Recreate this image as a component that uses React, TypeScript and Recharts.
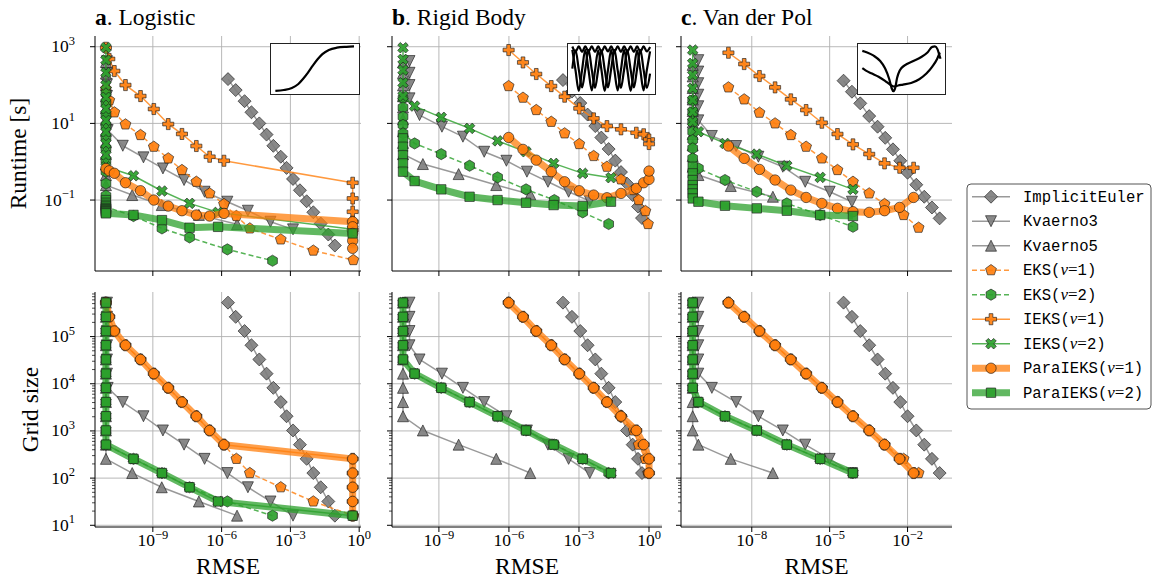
import React from 'react';
import { ScatterChart, Scatter, XAxis, YAxis, CartesianGrid, LineChart, Line } from 'recharts';

type Row = [number, number, number]; // [grid size, RMSE, runtime in s]

// ---------------- a. Logistic ----------------
const A_IEULER: Row[] = [
  [524288, 1.9e-6, 143], [262144, 4.1e-6, 74], [131072, 1.0e-5, 38], [65536, 2.0e-5, 19.5],
  [32768, 4.4e-5, 10], [16384, 9.1e-5, 5.1], [8192, 1.8e-4, 2.6], [4096, 3.8e-4, 1.35],
  [2048, 6.8e-4, 0.69], [1024, 1.3e-3, 0.355], [512, 2.6e-3, 0.18], [256, 5.1e-3, 0.093],
  [128, 1.0e-2, 0.048], [64, 2.1e-2, 0.0245], [32, 4.5e-2, 0.0126], [16, 8.7e-2, 0.0065],
];
const A_KV3: Row[] = [
  [524288, 1.0e-11, 420], [262144, 1.0e-11, 210], [131072, 1.0e-11, 105], [65536, 1.0e-11, 52],
  [32768, 1.0e-11, 26], [16384, 1.0e-11, 13], [8192, 1.07e-11, 6.7], [4096, 4.9e-11, 2.61],
  [2048, 3.9e-10, 1.3], [1024, 2.75e-9, 0.67], [512, 2.3e-8, 0.333], [256, 1.8e-7, 0.165],
  [128, 1.78e-6, 0.0906], [64, 1.4e-5, 0.0527], [32, 1.35e-4, 0.0272], [16, 1.3e-3, 0.0172],
];
const A_KV5: Row[] = [
  [524288, 9e-12, 400], [262144, 9e-12, 200], [131072, 9e-12, 100], [65536, 9e-12, 51],
  [32768, 9e-12, 25], [16384, 9e-12, 12.5], [8192, 9e-12, 6.4], [4096, 9e-12, 3.2],
  [2048, 9e-12, 1.6], [1024, 9e-12, 0.85], [512, 9e-12, 0.45], [256, 9e-12, 0.245],
  [128, 1.26e-10, 0.135], [64, 2.45e-9, 0.074], [32, 1.02e-7, 0.041], [16, 4.7e-6, 0.0234],
];
const A_EKS1: Row[] = [
  [524288, 9e-12, 80], [262144, 1.26e-11, 40], [131072, 2.1e-11, 19.4], [65536, 6.4e-11, 9.4],
  [32768, 2.9e-10, 4.97], [16384, 1.1e-9, 2.46], [8192, 4.7e-9, 1.22], [4096, 1.86e-8, 0.607],
  [2048, 7.9e-8, 0.3], [1024, 3.0e-7, 0.149], [512, 1.27e-6, 0.0787], [256, 4.4e-6, 0.0383],
  [128, 1.7e-5, 0.0182], [64, 3.8e-4, 0.0094], [32, 1.0e-2, 0.0048], [16, 0.557, 0.00272],
];
const A_EKS2: Row[] = [
  [524288, 9e-12, 60], [262144, 9e-12, 33], [131072, 9e-12, 17], [65536, 9e-12, 8.5],
  [32768, 9e-12, 4.3], [16384, 9e-12, 2.2], [8192, 9e-12, 1.1], [4096, 9e-12, 0.55],
  [2048, 9e-12, 0.27], [1024, 9e-12, 0.13], [512, 9e-12, 0.066], [256, 1.43e-10, 0.0383],
  [128, 2.5e-9, 0.0182], [64, 4.0e-8, 0.0106], [32, 1.78e-6, 0.00516], [16, 1.66e-4, 0.00261],
];
const A_IEKS1: Row[] = [
  [524288, 9e-12, 940], [262144, 1.26e-11, 480], [131072, 2.1e-11, 232], [65536, 6.4e-11, 100],
  [32768, 2.9e-10, 51.6], [16384, 1.1e-9, 23.7], [8192, 4.7e-9, 9.6], [4096, 1.86e-8, 5.3],
  [2048, 7.9e-8, 2.57], [1024, 3.0e-7, 1.35], [512, 1.27e-6, 1.06], [256, 0.52, 0.283],
  [128, 0.52, 0.11], [64, 0.52, 0.0496], [32, 0.52, 0.0272], [16, 0.52, 0.0166],
];
const A_IEKS2: Row[] = [
  [524288, 9e-12, 950], [262144, 9e-12, 450], [131072, 9e-12, 210], [65536, 9e-12, 100],
  [32768, 9e-12, 48], [16384, 9e-12, 24], [8192, 9e-12, 12], [4096, 9e-12, 6],
  [2048, 9e-12, 3], [1024, 9e-12, 1.5], [512, 9e-12, 0.74], [256, 1.43e-10, 0.43],
  [128, 2.5e-9, 0.172], [64, 4.0e-8, 0.082], [32, 7.0e-7, 0.0477], [16, 0.52, 0.0172],
];
const A_PARA1: Row[] = [
  [524288, 9e-12, 0.67], [262144, 1.26e-11, 0.58], [131072, 2.1e-11, 0.5], [65536, 6.4e-11, 0.283],
  [32768, 2.9e-10, 0.175], [16384, 1.1e-9, 0.1], [8192, 4.7e-9, 0.0697], [4096, 1.86e-8, 0.0527],
  [2048, 7.9e-8, 0.0407], [1024, 3.0e-7, 0.0383], [512, 1.27e-6, 0.0449], [256, 0.52, 0.0272],
  [128, 0.52, 0.0201], [64, 0.52, 0.0135], [32, 0.52, 0.0087], [16, 0.52, 0.0055],
];
const A_PARA2: Row[] = [
  [524288, 9e-12, 0.1], [262144, 9e-12, 0.085], [131072, 9e-12, 0.075], [65536, 9e-12, 0.068],
  [32768, 9e-12, 0.062], [16384, 9e-12, 0.058], [8192, 9e-12, 0.055], [4096, 9e-12, 0.052],
  [2048, 9e-12, 0.05], [1024, 9e-12, 0.047], [512, 9e-12, 0.045], [256, 1.43e-10, 0.041],
  [128, 2.5e-9, 0.03], [64, 4.0e-8, 0.019], [32, 7.0e-7, 0.02], [16, 0.52, 0.0135],
];

// ---------------- b. Rigid Body ----------------
const B_IEULER: Row[] = [
  [524288, 2.06e-4, 135], [262144, 5.0e-4, 67.6], [131072, 1.14e-3, 33.9], [65536, 2.34e-3, 17],
  [32768, 5.0e-3, 8.5], [16384, 9.06e-3, 4.27], [8192, 1.86e-2, 2.14], [4096, 3.6e-2, 1.07],
  [2048, 6.3e-2, 0.537], [1024, 0.114, 0.269], [512, 0.2, 0.135], [256, 0.338, 0.0676], [128, 0.5, 0.0339],
];
const B_KV3: Row[] = [
  [524288, 5.5e-11, 423], [262144, 5.5e-11, 209], [131072, 5.5e-11, 100], [65536, 5.5e-11, 45],
  [32768, 1.48e-10, 16.5], [16384, 1.35e-9, 8.2], [8192, 1.07e-8, 4.5], [4096, 8.7e-8, 1.82],
  [2048, 7.8e-7, 1.06], [1024, 5.9e-6, 0.55], [512, 4.7e-5, 0.3], [256, 3.6e-4, 0.165], [128, 2.9e-3, 0.094],
];
const B_KV5: Row[] = [
  [524288, 2.9e-11, 390], [262144, 2.9e-11, 205], [131072, 2.9e-11, 98], [65536, 2.9e-11, 51],
  [32768, 2.9e-11, 26], [16384, 2.9e-11, 12.8], [8192, 2.9e-11, 6.2], [4096, 2.9e-11, 3.1],
  [2048, 2.9e-11, 1.58], [1024, 2.06e-10, 0.87], [512, 7.0e-9, 0.476], [256, 2.86e-7, 0.246], [128, 8.2e-6, 0.141],
];
const B_EKS1: Row[] = [
  [524288, 9.7e-7, 94], [262144, 4.0e-6, 46.8], [131072, 1.48e-5, 22.3], [65536, 6.5e-5, 11],
  [32768, 2.43e-4, 5.5], [16384, 1.03e-3, 2.89], [8192, 4.26e-3, 1.41], [4096, 1.58e-2, 0.74],
  [2048, 6.3e-2, 0.346], [1024, 0.22, 0.182], [512, 0.36, 0.1], [256, 0.7, 0.0517], [128, 0.905, 0.0237],
];
const B_EKS2: Row[] = [
  [524288, 2.9e-11, 45], [262144, 2.9e-11, 26], [131072, 2.9e-11, 14.9], [65536, 2.9e-11, 9.1],
  [32768, 2.9e-11, 5.5], [16384, 9.1e-11, 3.0], [8192, 1.26e-9, 1.58], [4096, 2.06e-8, 0.787],
  [2048, 3.27e-7, 0.39], [1024, 5.4e-6, 0.19], [512, 8.8e-5, 0.1], [256, 1.44e-3, 0.0477], [128, 1.87e-2, 0.0237],
];
const B_IEKS1: Row[] = [
  [524288, 9.7e-7, 819], [262144, 4.0e-6, 389], [131072, 1.48e-5, 194], [65536, 6.5e-5, 94],
  [32768, 2.43e-4, 49.7], [16384, 1.03e-3, 24.6], [8192, 4.26e-3, 13.5], [4096, 1.58e-2, 8.5],
  [2048, 6.3e-2, 7.0], [1024, 0.286, 5.7], [512, 0.59, 5.2], [256, 1.0, 3.8], [128, 1.0, 2.9],
];
const B_IEKS2: Row[] = [
  [524288, 2.9e-11, 942], [262144, 2.9e-11, 468], [131072, 2.9e-11, 246], [65536, 2.9e-11, 115],
  [32768, 2.9e-11, 51.6], [16384, 9.1e-11, 28.3], [8192, 1.26e-9, 14.4], [4096, 2.06e-8, 7.4],
  [2048, 3.27e-7, 3.5], [1024, 5.4e-6, 1.82], [512, 8.2e-5, 0.905], [256, 1.44e-3, 0.497], [128, 2.35e-2, 0.383],
];
const B_PARA1: Row[] = [
  [524288, 9.7e-7, 4.3], [262144, 4.0e-6, 2.1], [131072, 1.48e-5, 1.1], [65536, 6.5e-5, 0.55],
  [32768, 2.43e-4, 0.3], [16384, 1.03e-3, 0.175], [8192, 4.26e-3, 0.135], [4096, 1.58e-2, 0.115],
  [2048, 6.3e-2, 0.149], [1024, 0.286, 0.201], [512, 0.59, 0.283], [256, 1.0, 0.346], [128, 1.0, 0.571],
];
const B_PARA2: Row[] = [
  [524288, 2.9e-11, 4.07], [262144, 2.9e-11, 2.46], [131072, 2.9e-11, 1.49], [65536, 2.9e-11, 0.905],
  [32768, 2.9e-11, 0.55], [16384, 9.1e-11, 0.313], [8192, 1.26e-9, 0.19], [4096, 2.06e-8, 0.122],
  [2048, 3.27e-7, 0.1], [1024, 5.4e-6, 0.085], [512, 8.2e-5, 0.074], [256, 1.44e-3, 0.0697], [128, 2.35e-2, 0.0906],
];

// ---------------- c. Van der Pol ----------------
const C_IEULER: Row[] = [
  [524288, 3.43e-5, 130], [262144, 7.2e-5, 67], [131072, 1.51e-4, 33.3], [65536, 3.34e-4, 15.5],
  [32768, 7.0e-4, 8.2], [16384, 1.38e-3, 4.2], [8192, 2.74e-3, 2.1], [4096, 5.25e-3, 1.06],
  [2048, 1.0e-2, 0.516], [1024, 2.17e-2, 0.251], [512, 4.4e-2, 0.122], [256, 8.7e-2, 0.064], [128, 0.172, 0.0333],
];
const C_KV3: Row[] = [
  [524288, 8.7e-11, 447], [262144, 8.7e-11, 225], [131072, 8.7e-11, 112], [65536, 8.7e-11, 56],
  [32768, 8.7e-11, 28], [16384, 8.7e-11, 12], [8192, 2.9e-10, 4.7], [4096, 2.5e-9, 2.57],
  [2048, 1.8e-8, 1.35], [1024, 1.57e-7, 0.74], [512, 1.14e-6, 0.3], [256, 1.0e-5, 0.165], [128, 7.2e-5, 0.0906],
];
const C_KV5: Row[] = [
  [524288, 5.3e-11, 336], [262144, 5.3e-11, 168], [131072, 5.3e-11, 84], [65536, 5.3e-11, 42],
  [32768, 5.3e-11, 21], [16384, 5.3e-11, 10.5], [8192, 5.3e-11, 5.3], [4096, 5.3e-11, 2.7],
  [2048, 5.3e-11, 1.4], [1024, 5.3e-11, 0.74], [512, 8.8e-11, 0.449], [256, 1.55e-9, 0.232], [128, 6.5e-8, 0.122],
];
const C_EKS1: Row[] = [
  [524288, 1.26e-9, 86.9], [262144, 5.1e-9, 42.3], [131072, 1.98e-8, 19], [65536, 7.9e-8, 10],
  [32768, 3.19e-7, 4.97], [16384, 1.24e-6, 2.46], [8192, 5.0e-6, 1.22], [4096, 2.0e-5, 0.607],
  [2048, 7.9e-5, 0.3], [1024, 3.34e-4, 0.149], [512, 1.3e-3, 0.0787], [256, 7.05e-3, 0.0407], [128, 2.67e-2, 0.019],
];
const C_EKS2: Row[] = [
  [524288, 5.3e-11, 40], [262144, 5.3e-11, 20], [131072, 5.3e-11, 11], [65536, 5.3e-11, 6.06],
  [32768, 5.3e-11, 3.67], [16384, 5.3e-11, 2.23], [8192, 5.3e-11, 1.22], [4096, 8.8e-11, 0.67],
  [2048, 9.3e-10, 0.333], [1024, 1.56e-8, 0.165], [512, 2.24e-7, 0.0818], [256, 4.3e-6, 0.0407], [128, 7.9e-5, 0.0201],
];
const C_IEKS1: Row[] = [
  [524288, 1.26e-9, 697], [262144, 5.1e-9, 353], [131072, 1.98e-8, 172], [65536, 7.9e-8, 87],
  [32768, 3.19e-7, 42.3], [16384, 1.24e-6, 22.3], [8192, 5.0e-6, 10.4], [4096, 2.0e-5, 5.27],
  [2048, 7.9e-5, 2.83], [1024, 3.34e-4, 1.58], [512, 1.3e-3, 0.905], [256, 4.94e-3, 0.697], [128, 1.71e-2, 0.697],
];
const C_IEKS2: Row[] = [
  [524288, 5.3e-11, 819], [262144, 5.3e-11, 367], [131072, 5.3e-11, 182], [65536, 5.3e-11, 82],
  [32768, 5.3e-11, 40.6], [16384, 5.3e-11, 20], [8192, 5.3e-11, 11], [4096, 8.8e-11, 6.06],
  [2048, 9.3e-10, 3.0], [1024, 1.56e-8, 1.58], [512, 2.24e-7, 0.787], [256, 4.3e-6, 0.39], [128, 7.9e-5, 0.19],
];
const C_PARA1: Row[] = [
  [524288, 1.26e-9, 2.57], [262144, 5.1e-9, 1.22], [131072, 1.98e-8, 0.63], [65536, 7.9e-8, 0.333],
  [32768, 3.19e-7, 0.182], [16384, 1.24e-6, 0.117], [8192, 5.0e-6, 0.0818], [4096, 2.0e-5, 0.0607],
  [2048, 7.9e-5, 0.0497], [1024, 3.34e-4, 0.0477], [512, 1.3e-3, 0.0527], [256, 4.94e-3, 0.0644], [128, 1.71e-2, 0.117],
];
const C_PARA2: Row[] = [
  [524288, 5.3e-11, 0.74], [262144, 5.3e-11, 0.497], [131072, 5.3e-11, 0.333], [65536, 5.3e-11, 0.246],
  [32768, 5.3e-11, 0.19], [16384, 5.3e-11, 0.149], [8192, 5.3e-11, 0.11], [4096, 8.8e-11, 0.0906],
  [2048, 9.3e-10, 0.0711], [1024, 1.56e-8, 0.0607], [512, 2.24e-7, 0.0527], [256, 4.3e-6, 0.0407], [128, 7.9e-5, 0.0383],
];

// ---------------- axis ticks ----------------
const X_TICKS_AB = [1e-9, 1e-6, 1e-3, 1];
const X_TICKS_C = [1e-8, 1e-5, 1e-2];
const RUNTIME_TICKS = [1e-1, 1e1, 1e3];
const GRID_MAJOR_TICKS = [1e1, 1e2, 1e3, 1e4, 1e5];
const GRID_ALL_TICKS = [
  10, 20, 30, 40, 50, 60, 70, 80, 90, 100, 200, 300, 400, 500, 600, 700, 800, 900,
  1000, 2000, 3000, 4000, 5000, 6000, 7000, 8000, 9000, 10000, 20000, 30000, 40000, 50000, 60000, 70000, 80000, 90000,
  100000, 200000, 300000, 400000, 500000, 600000, 700000, 800000,
];
const RUNTIME_DOMAIN: [number, number] = [1.41e-3, 1905];
const GRID_DOMAIN: [number, number] = [9.2, 8.81e5];

// ---------------- inset curves (normalized) ----------------
const INSET_A_X = [0.05, 0.147, 0.239, 0.313, 0.368, 0.423, 0.478, 0.533, 0.588, 0.662, 0.754, 0.864, 0.95];
const INSET_A_Y = [0.05, 0.068, 0.11, 0.19, 0.295, 0.42, 0.56, 0.69, 0.795, 0.88, 0.925, 0.943, 0.95];
const INSET_B_X = [0.05, 0.0875, 0.125, 0.1625, 0.2, 0.2375, 0.275, 0.3125, 0.35, 0.3875, 0.425, 0.4625, 0.5,
  0.5375, 0.575, 0.6125, 0.65, 0.6875, 0.725, 0.7625, 0.8, 0.8375, 0.875, 0.9125, 0.95];
const INSET_B_Y1 = [0.88, 0.46, 0.05, 0.47, 0.88, 0.47, 0.06, 0.46, 0.87, 0.47, 0.05, 0.47, 0.88, 0.46, 0.06,
  0.47, 0.88, 0.47, 0.05, 0.46, 0.87, 0.47, 0.06, 0.47, 0.85];
const INSET_B_Y2 = [0.5, 0.87, 0.48, 0.12, 0.49, 0.88, 0.48, 0.11, 0.49, 0.87, 0.48, 0.12, 0.5, 0.88, 0.47,
  0.11, 0.49, 0.87, 0.48, 0.12, 0.5, 0.88, 0.48, 0.11, 0.4];
const INSET_B_Y3 = [0.95, 0.84, 0.95, 0.84, 0.95, 0.85, 0.95, 0.84, 0.95, 0.84, 0.95, 0.85, 0.95, 0.84, 0.95,
  0.84, 0.95, 0.85, 0.95, 0.84, 0.95, 0.84, 0.95, 0.85, 0.94];
const INSET_C_X1 = [0.05, 0.106, 0.181, 0.257, 0.313, 0.362, 0.389, 0.408, 0.43, 0.453, 0.483, 0.54, 0.634,
  0.728, 0.804, 0.86, 0.891, 0.921, 0.943, 0.955];
const INSET_C_Y1 = [0.86, 0.828, 0.764, 0.655, 0.51, 0.287, 0.108, 0.045, 0.108, 0.318, 0.465, 0.567, 0.65,
  0.732, 0.828, 0.943, 0.95, 0.892, 0.764, 0.701];
const INSET_C_X2 = [0.05, 0.087, 0.162, 0.238, 0.313, 0.37, 0.415, 0.464, 0.521, 0.615, 0.709, 0.792, 0.86, 0.917, 0.947];
const INSET_C_Y2 = [0.51, 0.465, 0.401, 0.338, 0.255, 0.178, 0.14, 0.159, 0.178, 0.21, 0.287, 0.401, 0.541, 0.701, 0.828];

// ---------------- styling ----------------
const GRAY = '#7f7f7f';
const ORANGE = '#ff7f0e';
const GREEN = '#2ca02c';
const SERIF = "'Liberation Serif', 'DejaVu Serif', serif";
const MONO = "'Liberation Mono', 'DejaVu Sans Mono', monospace";

type Method = { name: string; nu?: string; color: string; marker: string; dash?: string; lw: number };
const METHODS: Method[] = [
  { name: 'ImplicitEuler', color: GRAY, marker: 'D', lw: 1.5 },
  { name: 'Kvaerno3', color: GRAY, marker: 'v', lw: 1.5 },
  { name: 'Kvaerno5', color: GRAY, marker: '^', lw: 1.5 },
  { name: 'EKS', nu: '1', color: ORANGE, marker: 'p', dash: '5 3', lw: 1.5 },
  { name: 'EKS', nu: '2', color: GREEN, marker: 'h', dash: '5 3', lw: 1.5 },
  { name: 'IEKS', nu: '1', color: ORANGE, marker: 'P', lw: 1.5 },
  { name: 'IEKS', nu: '2', color: GREEN, marker: 'X', lw: 1.5 },
  { name: 'ParaIEKS', nu: '1', color: ORANGE, marker: 'o', lw: 7 },
  { name: 'ParaIEKS', nu: '2', color: GREEN, marker: 's', lw: 7 },
];

type Panel = {
  letter: string; title: string; series: Row[][]; xDomain: [number, number]; xTicks: number[];
  left: number; right: number; showY: boolean;
};
const PANELS: Panel[] = [
  { letter: 'a', title: 'Logistic', series: [A_IEULER, A_KV3, A_KV5, A_EKS1, A_EKS2, A_IEKS1, A_IEKS2, A_PARA1, A_PARA2],
    xDomain: [3.0e-12, 1.2], xTicks: X_TICKS_AB, left: 95, right: 361, showY: true },
  { letter: 'b', title: 'Rigid Body', series: [B_IEULER, B_KV3, B_KV5, B_EKS1, B_EKS2, B_IEKS1, B_IEKS2, B_PARA1, B_PARA2],
    xDomain: [9.8e-12, 3.6], xTicks: X_TICKS_AB, left: 392, right: 662, showY: false },
  { letter: 'c', title: 'Van der Pol', series: [C_IEULER, C_KV3, C_KV5, C_EKS1, C_EKS2, C_IEKS1, C_IEKS2, C_PARA1, C_PARA2],
    xDomain: [1.88e-11, 0.515], xTicks: X_TICKS_C, left: 681, right: 952, showY: false },
];

const ROW_TOP = [36, 292];
const PLOT_H = 235;

// unit shapes
const PENT = [[0, -1], [0.951, -0.309], [0.588, 0.809], [-0.588, 0.809], [-0.951, -0.309]];
const HEX = [[0, -1], [0.866, -0.5], [0.866, 0.5], [0, 1], [-0.866, 0.5], [-0.866, -0.5]];
const PLUS = [[-1, -3], [1, -3], [1, -1], [3, -1], [3, 1], [1, 1], [1, 3], [-1, 3], [-1, 1], [-3, 1], [-3, -1], [-1, -1]];
const XSHAPE = [[-1, -2], [0, -1], [1, -2], [2, -1], [1, 0], [2, 1], [1, 2], [0, 1], [-1, 2], [-2, 1], [-1, 0], [-2, -1]];

function Marker({ kind, cx, cy, fill }: { kind: string; cx: number; cy: number; fill: string }) {
  if (cx == null || cy == null || isNaN(cx) || isNaN(cy)) return null;
  const st = { fill, fillOpacity: 0.92, stroke: '#1a1a1a', strokeOpacity: 0.8, strokeWidth: 0.8 };
  const poly = (pts: number[][], k: number) => (
    <polygon points={pts.map(([px, py]) => `${cx + px * k},${cy + py * k}`).join(' ')} {...st} />
  );
  switch (kind) {
    case 'o': return <circle cx={cx} cy={cy} r={5.2} {...st} />;
    case 's': return poly([[-1, -1], [1, -1], [1, 1], [-1, 1]], 4.7);
    case 'D': return poly([[0, -1], [1, 0], [0, 1], [-1, 0]], 6.5);
    case 'v': return poly([[-1, -1], [1, -1], [0, 1]], 5.5);
    case '^': return poly([[0, -1], [1, 1], [-1, 1]], 5.5);
    case 'p': return poly(PENT, 5.7);
    case 'h': return poly(HEX, 5.6);
    case 'P': return poly(PLUS, 1.85);
    case 'X': return poly(XSHAPE, 2.65);
    default: return null;
  }
}

function expLabel(v: number) {
  const e = Math.round(Math.log10(v));
  return e < 0 ? `\u2212${-e}` : `${e}`;
}
function isMajor(v: number) {
  const l = Math.log10(v);
  return Math.abs(l - Math.round(l)) < 1e-6;
}

const makeYTick = (showLabel: boolean) => (props: any) => {
  const { x, y, payload } = props;
  const v = payload.value;
  const major = isMajor(v);
  const len = major ? 5 : 3;
  return (
    <g>
      <line x1={x - len} x2={x} y1={y} y2={y} stroke="#000" strokeWidth={major ? 1 : 0.7} />
      {major && showLabel && (
        <text x={x - 20} y={y + 5.5} textAnchor="end" fontFamily={SERIF} fontSize={17.5} fill="#000">
          10<tspan dy={-7.5} fontSize={12.5}>{expLabel(v)}</tspan>
        </text>
      )}
    </g>
  );
};

const makeXTick = (showLabel: boolean) => (props: any) => {
  const { x, y, payload } = props;
  return (
    <g>
      <line x1={x} x2={x} y1={y} y2={y + 5} stroke="#000" strokeWidth={1} />
      {showLabel && (
        <text x={x} y={y + 19} textAnchor="middle" fontFamily={SERIF} fontSize={17.5} fill="#000">
          10<tspan dy={-7.5} fontSize={12.5}>{expLabel(payload.value)}</tspan>
        </text>
      )}
    </g>
  );
};

function PanelChart({ panel, row }: { panel: Panel; row: number }) {
  const isTop = row === 0;
  const YW = panel.showY ? 90 : 14;
  const XH = isTop ? 10 : 30;
  const MT = 6;
  const MR = 18;
  const plotW = panel.right - panel.left;
  const width = YW + plotW + MR;
  const height = MT + PLOT_H + XH;
  const yDomain = isTop ? RUNTIME_DOMAIN : GRID_DOMAIN;
  const yTicks = isTop ? RUNTIME_TICKS : GRID_ALL_TICKS;
  const yGrid = isTop ? RUNTIME_TICKS : GRID_MAJOR_TICKS;
  return (
    <div style={{ position: 'absolute', left: panel.left - YW, top: ROW_TOP[row] - MT }}>
      <ScatterChart width={width} height={height} margin={{ top: MT, right: MR, bottom: 0, left: 0 }}>
        <CartesianGrid horizontalValues={yGrid} verticalValues={panel.xTicks} stroke="#b0b0b0" strokeWidth={0.9} />
        <XAxis dataKey="x" type="number" scale="log" domain={panel.xDomain} allowDataOverflow ticks={panel.xTicks}
          interval={0} tickSize={0} tickMargin={0} tickLine={false} axisLine={{ stroke: '#000' }} height={XH}
          tick={makeXTick(!isTop)} />
        <XAxis xAxisId="top" orientation="top" type="number" scale="log" domain={panel.xDomain} allowDataOverflow
          height={0} tick={false} tickLine={false} axisLine={{ stroke: '#000' }} />
        <YAxis dataKey="y" type="number" scale="log" domain={yDomain} allowDataOverflow ticks={yTicks}
          interval={0} tickSize={0} tickMargin={0} tickLine={false} axisLine={{ stroke: '#000' }} width={YW}
          tick={makeYTick(panel.showY)} />
        <YAxis yAxisId="right" orientation="right" type="number" scale="log" domain={yDomain} allowDataOverflow
          width={0} tick={false} tickLine={false} axisLine={{ stroke: '#000' }} />
        {panel.series.map((rows, i) => {
          const m = METHODS[i];
          const data = rows.map((r) => ({ x: r[1], y: isTop ? r[2] : r[0] }));
          return (
            <Scatter key={i} data={data} isAnimationActive={false} fill={m.color}
              line={{ stroke: m.color, strokeWidth: m.lw, strokeDasharray: m.dash, strokeOpacity: m.lw > 3 ? 0.75 : 0.8, strokeLinejoin: 'round' }}
              lineType="joint"
              shape={(p: any) => <Marker kind={m.marker} cx={p.cx} cy={p.cy} fill={m.color} />} />
          );
        })}
      </ScatterChart>
    </div>
  );
}

function Inset({ left, width, curves }: { left: number; width: number; curves: { x: number; y: number }[][] }) {
  const h = 52;
  return (
    <div style={{ position: 'absolute', left, top: 43, width, height: h, border: '1.3px solid #222', background: '#fff', boxSizing: 'border-box' }}>
      <LineChart width={width - 2.6} height={h - 2.6} margin={{ top: 0, right: 0, bottom: 0, left: 0 }}>
        <XAxis type="number" dataKey="x" domain={[0, 1]} hide allowDataOverflow />
        <YAxis type="number" domain={[0, 1]} hide allowDataOverflow />
        {curves.map((c, i) => (
          <Line key={i} data={c} dataKey="y" type="monotone" stroke="#000" strokeWidth={2.2} dot={false} isAnimationActive={false} />
        ))}
      </LineChart>
    </div>
  );
}

const zip = (xs: number[], ys: number[]) => xs.map((x, i) => ({ x, y: ys[i] }));

function LegendLabel({ m }: { m: Method }) {
  if (!m.nu) return <>{m.name}</>;
  return (
    <>
      {m.name}(<tspan fontFamily={SERIF} fontStyle="italic" fontSize={17}>ν</tspan>
      <tspan fontFamily={SERIF} fontSize={17}>=</tspan>{m.nu})
    </>
  );
}

export default function App() {
  return (
    <div style={{ position: 'absolute', left: 0, top: 0, width: 1152, height: 583, background: '#fff', overflow: 'hidden' }}>
      <svg width={1152} height={583} style={{ position: 'absolute', left: 0, top: 0 }}>
        {PANELS.map((p) => (
          <text key={p.letter} x={p.left} y={25} fontFamily={SERIF} fontSize={23.5} fill="#000">
            <tspan fontWeight="bold">{p.letter}</tspan>. {p.title}
          </text>
        ))}
        {PANELS.map((p) => (
          <text key={'x' + p.letter} x={(p.left + p.right) / 2} y={574} textAnchor="middle" fontFamily={SERIF} fontSize={23.5} fill="#000">RMSE</text>
        ))}
        <text transform="translate(25.5,153.5) rotate(-90)" textAnchor="middle" fontFamily={SERIF} fontSize={23.5} fill="#000">Runtime [s]</text>
        <text transform="translate(37.5,409.5) rotate(-90)" textAnchor="middle" fontFamily={SERIF} fontSize={23.5} fill="#000">Grid size</text>
        <rect x={967} y={184} width={184} height={225} rx={4} fill="#fff" stroke="#555" strokeWidth={1} />
        {METHODS.map((m, i) => {
          const y = 196.7 + i * 24.5;
          return (
            <g key={i}>
              <line x1={972} x2={1010} y1={y} y2={y} stroke={m.color} strokeWidth={m.lw}
                strokeOpacity={m.lw > 3 ? 0.75 : 0.8} strokeDasharray={m.dash} />
              <Marker kind={m.marker} cx={991} cy={y} fill={m.color} />
              <text x={1023} y={y + 5} fontFamily={MONO} fontSize={15.6} fill="#000"><LegendLabel m={m} /></text>
            </g>
          );
        })}
      </svg>
      {PANELS.map((p) => [0, 1].map((row) => <PanelChart key={p.letter + row} panel={p} row={row} />))}
      <Inset left={270} width={90} curves={[zip(INSET_A_X, INSET_A_Y)]} />
      <Inset left={567} width={89} curves={[zip(INSET_B_X, INSET_B_Y1), zip(INSET_B_X, INSET_B_Y2), zip(INSET_B_X, INSET_B_Y3)]} />
      <Inset left={857} width={89} curves={[zip(INSET_C_X1, INSET_C_Y1), zip(INSET_C_X2, INSET_C_Y2)]} />
    </div>
  );
}
